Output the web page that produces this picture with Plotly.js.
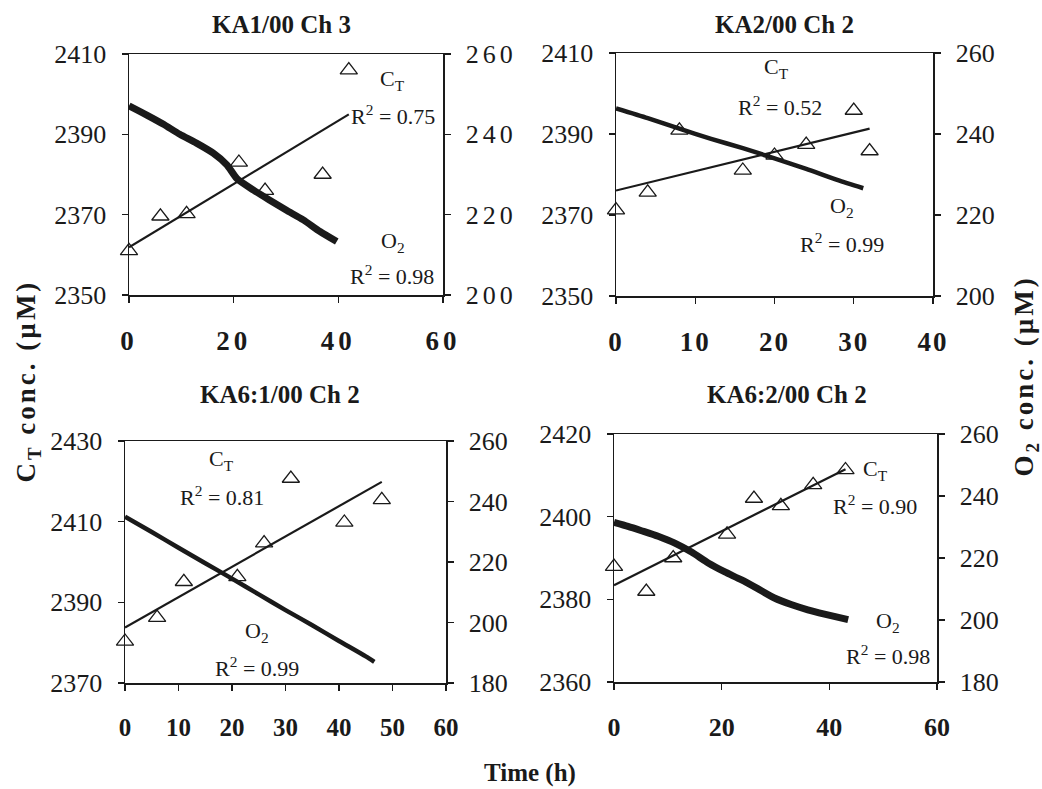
<!DOCTYPE html>
<html>
<head>
<meta charset="utf-8">
<script src="https://cdn.plot.ly/plotly-3.0.1.min.js"></script>
<style>
  html, body { margin: 0; padding: 0; background: #ffffff; }
  #chart { width: 1042px; height: 789px; }
  .xtick text, .y2tick text { letter-spacing: 4px; }
  .x2tick text { letter-spacing: 2px; }
  .annotation[data-index="16"] text, .annotation[data-index="17"] text { letter-spacing: 3px; }
</style>
</head>
<body>
<div id="chart"></div>
<script>
// ---------------- data ----------------
// Panel 1 : KA1/00 Ch 3
const p1Title = 'KA1/00 Ch 3';
const p1CtTime = [0, 6, 11, 21, 26, 37, 42];
const p1Ct     = [2361, 2369.6, 2370.2, 2383, 2376, 2380, 2406];
const p1O2Time = [0, 3.4, 6.6, 9.7, 12.9, 16.1, 18.7, 20.6, 23.8, 26.9, 30.1, 33.3, 36.5, 39.7];
const p1O2     = [247.1, 244.8, 242.5, 240.0, 237.8, 235.3, 232.4, 229.0, 226.1, 223.6, 221.1, 218.7, 215.8, 213.3];
const p1CtR2 = '0.75';
const p1O2R2 = '0.98';

// Panel 2 : KA2/00 Ch 2
const p2Title = 'KA2/00 Ch 2';
const p2CtTime = [0, 4, 8, 16, 20, 24, 30, 32];
const p2Ct     = [2371.2, 2375.6, 2390.9, 2381.0, 2384.7, 2387.4, 2395.8, 2385.8];
const p2O2Time = [0, 4, 8, 12, 16, 20, 24, 28, 31.2];
const p2O2     = [246.3, 243.9, 241.3, 238.8, 236.5, 234.0, 231.4, 228.6, 226.6];
const p2CtR2 = '0.52';
const p2O2R2 = '0.99';

// Panel 3 : KA6:1/00 Ch 2
const p3Title = 'KA6:1/00 Ch 2';
const p3CtTime = [0, 6, 11, 21, 26, 31, 41, 48];
const p3Ct     = [2380.3, 2386.2, 2395.1, 2396.3, 2404.7, 2420.7, 2409.8, 2415.4];
const p3O2Time = [0, 5, 10, 15, 20, 25, 30, 35, 40, 45, 46.6];
const p3O2     = [235.0, 229.9, 224.7, 219.6, 214.5, 209.3, 204.1, 199.1, 193.9, 188.8, 187.0];
const p3CtR2 = '0.81';
const p3O2R2 = '0.99';

// Panel 4 : KA6:2/00 Ch 2
const p4Title = 'KA6:2/00 Ch 2';
const p4CtTime = [0, 6, 11, 21, 26, 31, 37, 43];
const p4Ct     = [2387.9, 2381.9, 2390.0, 2395.7, 2404.4, 2402.6, 2407.7, 2411.3];
const p4O2Time = [0, 2.6, 5.1, 8.2, 11.3, 14.4, 17.5, 20.6, 23.6, 26.7, 29.8, 32.9, 36.0, 39.1, 43.5];
const p4O2     = [231.5, 230.2, 228.8, 227.0, 224.8, 221.9, 218.4, 215.5, 213.0, 210.1, 207.1, 205.0, 203.3, 201.9, 200.1];
const p4CtR2 = '0.90';
const p4O2R2 = '0.98';

// axis labels
const leftTitle = 'C<sub>T</sub> conc. (µM)';
const rightTitle = 'O<sub>2</sub> conc. (µM)';
const timeTitle = 'Time (h)';

// ---------------- layout / style ----------------
const W = 1042, H = 789;
const FONT = 'Liberation Serif, Times New Roman, Times, serif';
const INK = '#1a1a1a';

function linFit(xs, ys) {
  const n = xs.length;
  const mx = xs.reduce((a, b) => a + b, 0) / n;
  const my = ys.reduce((a, b) => a + b, 0) / n;
  let sxy = 0, sxx = 0;
  for (let i = 0; i < n; i++) { sxy += (xs[i] - mx) * (ys[i] - my); sxx += (xs[i] - mx) ** 2; }
  const b = sxy / sxx, a = my - b * mx;
  const x0 = Math.min(...xs), x1 = Math.max(...xs);
  return { x: [x0, x1], y: [a + b * x0, a + b * x1] };
}

const panels = [
  { title: p1Title, ctT: p1CtTime, ct: p1Ct, o2T: p1O2Time, o2: p1O2, r2ct: p1CtR2, r2o2: p1O2R2,
    px: [129, 443], py: [54, 295], xr: [0, 60], xdt: 20, yl: [2350, 2410], yr: [200, 260], o2w: 7, xtf: 27,
    tpos: [281, 24], lab: { ct: [50.4, 2403.5], ctR: [50.4, 2394.8], o2: [50.4, 2363.2], o2R: [50.3, 2355.0] } },
  { title: p2Title, ctT: p2CtTime, ct: p2Ct, o2T: p2O2Time, o2: p2O2, r2ct: p2CtR2, r2o2: p2O2R2,
    px: [616, 933], py: [53, 296], xr: [0, 40], xdt: 10, yl: [2350, 2410], yr: [200, 260], o2w: 4.5, xtf: 27,
    tpos: [784, 24], lab: { ct: [20.3, 2406.3], ctR: [20.7, 2396.9], o2: [28.5, 2372.0], o2R: [28.5, 2363.1] } },
  { title: p3Title, ctT: p3CtTime, ct: p3Ct, o2T: p3O2Time, o2: p3O2, r2ct: p3CtR2, r2o2: p3O2R2,
    px: [125, 446], py: [441, 683], xr: [0, 60], xdt: 10, yl: [2370, 2430], yr: [180, 260], o2w: 4.5, xtf: 25,
    tpos: [280, 394], lab: { ct: [18.1, 2425.3], ctR: [18.1, 2416.4], o2: [24.7, 2382.6], o2R: [24.7, 2374.0] } },
  { title: p4Title, ctT: p4CtTime, ct: p4Ct, o2T: p4O2Time, o2: p4O2, r2ct: p4CtR2, r2o2: p4O2R2,
    px: [614, 937], py: [434, 682], xr: [0, 60], xdt: 20, yl: [2360, 2420], yr: [180, 260], o2w: 7, xtf: 26,
    tpos: [787, 394], lab: { ct: [48.5, 2411.3], ctR: [48.5, 2402.8], o2: [50.9, 2374.5], o2R: [50.9, 2366.5] } }
];

const traces = [];
const layout = {
  width: W, height: H,
  margin: { l: 0, r: 0, t: 0, b: 0 },
  paper_bgcolor: '#ffffff', plot_bgcolor: '#ffffff',
  showlegend: false,
  font: { family: FONT, color: INK, size: 24 },
  annotations: []
};
const titleAnns = [];
const labelAnns = [];

panels.forEach((p, i) => {
  const k = i + 1;
  const xid = k === 1 ? 'x' : 'x' + k;
  const ylid = (2 * k - 1) === 1 ? 'y' : 'y' + (2 * k - 1);
  const yrid = 'y' + (2 * k);
  const xkey = k === 1 ? 'xaxis' : 'xaxis' + k;
  const ylkey = ylid === 'y' ? 'yaxis' : 'yaxis' + (2 * k - 1);
  const yrkey = 'yaxis' + (2 * k);
  const xdom = [p.px[0] / W, p.px[1] / W];
  const ydom = [1 - p.py[1] / H, 1 - p.py[0] / H];

  const axCommon = {
    showgrid: false, zeroline: false, showline: true, linecolor: INK, linewidth: 1.5,
    ticks: 'outside', ticklen: 6, tickwidth: 1.2, tickcolor: INK, fixedrange: true
  };
  layout[xkey] = Object.assign({}, axCommon, {
    domain: xdom, anchor: ylid, range: p.xr, dtick: p.xdt, tick0: p.xr[0], mirror: true,
    tickfont: { family: FONT, size: p.xtf, color: INK, weight: 'bold' }, ticklabelstandoff: 15
  });
  layout[ylkey] = Object.assign({}, axCommon, {
    domain: ydom, anchor: xid, range: p.yl, dtick: 20, tick0: p.yl[0], side: 'left',
    tickfont: { family: FONT, size: 26, color: INK }, ticklabelstandoff: 10
  });
  layout[yrkey] = Object.assign({}, axCommon, {
    domain: ydom, anchor: xid, overlaying: ylid, range: p.yr, dtick: 20, tick0: p.yr[0], side: 'right',
    tickfont: { family: FONT, size: 26, color: INK }, ticklabelstandoff: 10
  });

  // O2 trace (right axis)
  traces.push({ type: 'scatter', mode: 'lines', x: p.o2T, y: p.o2, xaxis: xid, yaxis: yrid,
    line: { color: INK, width: p.o2w, shape: 'spline', smoothing: 0.6 }, hoverinfo: 'skip' });
  // CT regression line (left axis)
  const f = linFit(p.ctT, p.ct);
  traces.push({ type: 'scatter', mode: 'lines', x: f.x, y: f.y, xaxis: xid, yaxis: ylid,
    line: { color: INK, width: 2.2 }, hoverinfo: 'skip' });
  // CT observations
  traces.push({ type: 'scatter', mode: 'markers', x: p.ctT, y: p.ct, xaxis: xid, yaxis: ylid,
    cliponaxis: false,
    marker: { symbol: 'triangle-up-open', size: 15, color: INK, line: { color: INK, width: 1.3 } } });

  titleAnns.push({ text: p.title, xref: 'paper', yref: 'paper', x: p.tpos[0] / W, y: 1 - p.tpos[1] / H,
    xanchor: 'center', yanchor: 'middle', showarrow: false,
    font: { family: FONT, size: 25, color: INK, weight: 'bold' } });

  const lf = { family: FONT, size: 22, color: INK };
  labelAnns.push(
    { text: 'C<sub>T</sub>', xref: xid, yref: ylid, x: p.lab.ct[0], y: p.lab.ct[1], showarrow: false, font: lf },
    { text: 'R<sup>2</sup> = ' + p.r2ct, xref: xid, yref: ylid, x: p.lab.ctR[0], y: p.lab.ctR[1], showarrow: false, font: lf },
    { text: 'O<sub>2</sub>', xref: xid, yref: ylid, x: p.lab.o2[0], y: p.lab.o2[1], showarrow: false, font: lf }
  );
  labelAnns.push(
    { text: 'R<sup>2</sup> = ' + p.r2o2, xref: xid, yref: ylid, x: p.lab.o2R[0], y: p.lab.o2R[1], showarrow: false, font: lf }
  );
});

// indices 0-15 : panel labels ; 16,17 : side titles ; 18 : time ; 19-22 : panel titles
layout.annotations = labelAnns.concat([
  { text: leftTitle, xref: 'paper', yref: 'paper', x: 28 / W, y: 1 - 381 / H, textangle: -90,
    xanchor: 'center', yanchor: 'middle', showarrow: false,
    font: { family: FONT, size: 27, color: INK, weight: 'bold' } },
  { text: rightTitle, xref: 'paper', yref: 'paper', x: 1026 / W, y: 1 - 376 / H, textangle: -90,
    xanchor: 'center', yanchor: 'middle', showarrow: false,
    font: { family: FONT, size: 27, color: INK, weight: 'bold' } },
  { text: timeTitle, xref: 'paper', yref: 'paper', x: 530 / W, y: 1 - 773 / H,
    xanchor: 'center', yanchor: 'middle', showarrow: false,
    font: { family: FONT, size: 25, color: INK, weight: 'bold' } }
]).concat(titleAnns);

Plotly.newPlot('chart', traces, layout, { staticPlot: true, displayModeBar: false });
</script>
</body>
</html>
